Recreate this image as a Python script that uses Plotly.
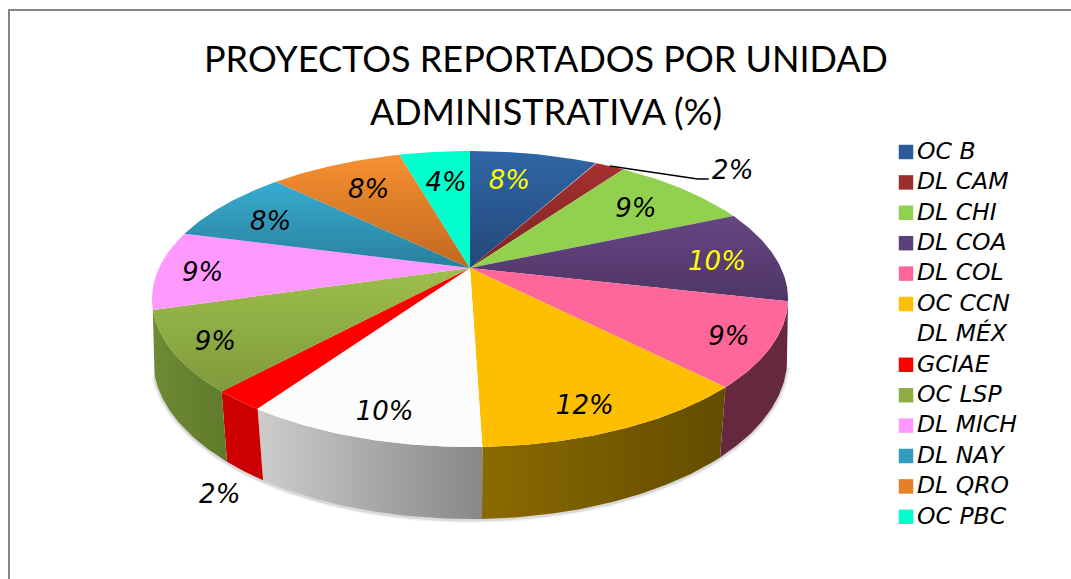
import numpy as np
import plotly.graph_objects as go

# ---------- data ----------
categories = ["OC B", "DL CAM", "DL CHI", "DL COA", "DL COL", "OC CCN", "DL MÉX",
              "GCIAE", "OC LSP", "DL MICH", "DL NAY", "DL QRO", "OC PBC"]
values = [7.95, 1.85, 8.7, 10.1, 9.1, 11.8, 10.05, 2.25, 8.7, 8.6, 8.2, 8.3, 4.4]
label_texts = ["8%", "2%", "9%", "10%", "9%", "12%", "10%", "2%", "9%", "9%", "8%", "8%", "4%"]
title_lines = ["PROYECTOS REPORTADOS POR UNIDAD", "ADMINISTRATIVA (%)"]

# ---------- style ----------
top_colors = [("#2f66a6", "#24487a"), ("#a5312f", "#7e2320"), ("#92d050", "#92d050"),
              ("#644681", "#4f3567"), ("#ff6699", "#ff6699"), ("#fdbf00", "#fdbf00"),
              ("#fcfcfc", "#fcfcfc"), ("#ff0000", "#ff0000"), ("#9dbf4b", "#7f9a3c"),
              ("#ff99ff", "#ff99ff"), ("#37accf", "#2a7f9d"), ("#f79030", "#c06820"),
              ("#00ffcc", "#00ffcc")]
wall_colors = {4: ("#66283f", "#66283f"), 5: ("#8a6a00", "#644c00"),
               6: ("#cccccc", "#888888"), 7: ("#cc0000", "#cc0000"),
               8: ("#6f8a35", "#5f7b2b")}
legend_colors = ["#2b5c99", "#9c2f2d", "#92d050", "#5c4079", "#ff6699", "#fdbf00", "#ffffff",
                 "#ff0000", "#8fad44", "#ff99ff", "#329cbc", "#e67f28", "#00ffcc"]
label_colors = ["#ffff00", "#000000", "#000000", "#ffff00"] + ["#000000"] * 9
label_radius = [.72, 1, .72, .72, .72, .72, .72, 1, .72, .72, .72, .72, .72]
label_nudge = [(-9, 1), (123, 6), (7, 1), (27, 5), (48, 17), (13, 31), (-12, 31.5),
               (-19, 96), (-48, 17), (-43, 5), (-18, 2), (0, 1), (3, 4)]
TITLE_FONT = "Lato"
TEXT_FONT = "DejaVu Sans"

# perspective model of the disc (pixel space)
TOP = dict(cx=470, cy=268, a=311, b=141.5, k=.2095)
LOW = dict(cx=470, cy=330, a=312, b=155, k=.18)


def project(theta, r=1.0, ring=TOP):
    u, v = np.sin(theta), np.cos(theta)
    w = 1 + ring["k"] * r * v
    return ring["cx"] + ring["a"] * r * u / w, ring["cy"] - ring["b"] * r * v / w


edges = np.concatenate([[0], np.cumsum(values)]) / np.sum(values) * 2 * np.pi
fig = go.Figure()


def polygon(x, y, colors, orientation):
    c0, c1 = colors
    # the y axis runs downwards, so a vertical gradient is given bottom colour first
    scale = [[0, c0], [1, c1]] if orientation == "horizontal" else [[0, c1], [1, c0]]
    kw = dict(fillcolor=c0) if c0 == c1 else dict(fillgradient=dict(type=orientation, colorscale=scale))
    fig.add_trace(go.Scatter(x=list(x), y=list(y), mode="lines", fill="toself",
                             line=dict(width=0), hoverinfo="skip", showlegend=False, **kw))


# soft shadow under the visible rim
ts = np.linspace(edges[4], edges[9], 160)
sx, sy = project(ts, ring=LOW)
for width, alpha in [(6, .08), (3, .16)]:
    fig.add_trace(go.Scatter(x=sx, y=sy + 1, mode="lines", hoverinfo="skip", showlegend=False,
                             line=dict(color=f"rgba(90,90,90,{alpha})", width=width)))

# side walls
for i, colors in wall_colors.items():
    t = np.linspace(edges[i], edges[i + 1], 60)
    x0, y0 = project(t)
    x1, y1 = project(t[::-1], ring=LOW)
    polygon(np.r_[x0, x1], np.r_[y0, y1], colors, "horizontal")

# top surface
for i, colors in enumerate(top_colors):
    t = np.linspace(edges[i], edges[i + 1], 60)
    x0, y0 = project(t)
    polygon(np.r_[TOP["cx"], x0, TOP["cx"]], np.r_[TOP["cy"], y0, TOP["cy"]], colors, "vertical")

# percentage labels
mids = (edges[:-1] + edges[1:]) / 2
lx, ly = [], []
for m, r, (dx, dy) in zip(mids, label_radius, label_nudge):
    px, py = project(m, r)
    lx.append(px + dx)
    ly.append(py + dy)
fig.add_trace(go.Scatter(x=lx, y=ly, mode="text", text=label_texts, textposition="middle center",
                         textfont=dict(family=TEXT_FONT, size=26, style="italic", color=label_colors),
                         hoverinfo="skip", showlegend=False))

# leader line for the small DL CAM slice
rx, ry = project(mids[1])
fig.add_trace(go.Scatter(x=[rx, rx + 88, rx + 99], y=[ry, ry + 13, ry + 13], mode="lines",
                         line=dict(color="#000000", width=1.5), hoverinfo="skip", showlegend=False))

# legend, laid out by row index
rows = 152 + 30.4 * np.arange(len(categories))
fig.add_trace(go.Scatter(x=[906] * len(rows), y=rows, mode="markers", hoverinfo="skip", showlegend=False,
                         marker=dict(symbol="square", size=14.5, color=legend_colors, line=dict(width=0))))
fig.add_trace(go.Scatter(x=[917] * len(rows), y=rows + 1, mode="text", text=categories, textposition="middle right",
                         textfont=dict(family=TEXT_FONT, size=23.5, style="italic", color="#000000"),
                         hoverinfo="skip", showlegend=False))

title = "<br>".join(f'<span style="font-size:36px">{s}</span>' for s in title_lines)
fig.update_layout(
    width=1071, height=579, margin=dict(l=0, r=0, t=0, b=0), showlegend=False,
    paper_bgcolor="#ffffff", plot_bgcolor="#ffffff",
    xaxis=dict(range=[0, 1071], visible=False, fixedrange=True),
    yaxis=dict(range=[579, 0], visible=False, fixedrange=True),
    title=dict(text=title, x=546 / 1071, xanchor="center", y=1 - 71.5 / 579, yanchor="middle",
               font=dict(family=TITLE_FONT, size=41, color="#000000")),
    shapes=[dict(type="path", path="M 9 579 L 9 10 L 1071 10", line=dict(color="#868686", width=2),
                 xref="x", yref="y")],
)
fig.write_html("out.html", config={"displayModeBar": False},
               post_script="document.body.style.margin='0';")
